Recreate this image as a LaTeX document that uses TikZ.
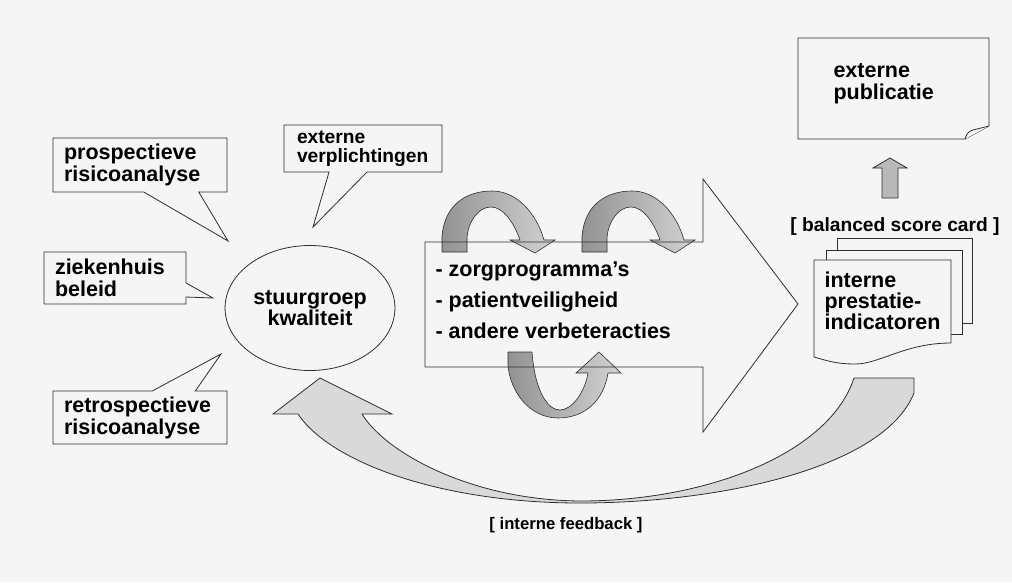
\documentclass[tikz,border=0pt]{standalone}
\usepackage{fontspec}
\setmainfont{Liberation Sans}
\usetikzlibrary{shapes.geometric, shapes.callouts}
\definecolor{paper}{HTML}{F5F5F5}
\definecolor{inkgray}{HTML}{2E2E2E}

\newcommand{\bigtxt}{\bfseries\fontsize{21.5}{22}\selectfont}

\begin{document}
\begin{tikzpicture}[
    x=1pt, y=-1pt,
    callbox/.style={rectangle callout, draw=inkgray, line width=0.8pt, fill=paper,
                    align=left, font=\bigtxt, inner xsep=11pt, inner ysep=4pt},
    kern/.style={ellipse, draw=inkgray, line width=0.8pt, minimum width=166pt,
                 minimum height=125pt, align=center,
                 font=\bfseries\fontsize{21.5}{20}\selectfont},
    ribbon/.style={draw=inkgray, line width=0.6pt, left color=gray!85, right color=gray!35},
    bigar/.style={draw=inkgray, line width=0.8pt},
    feedback/.style={draw=inkgray, line width=0.8pt, fill=gray!30},
    blockar/.style={draw=inkgray, line width=0.8pt, fill=gray!55},
    sheet/.style={draw=inkgray, line width=0.8pt, fill=paper},
    tag/.style={font=\bfseries\fontsize{19.2}{20}\selectfont},
  ]

  % page
  \fill[paper] (0,0) rectangle (1012,582);
  \useasboundingbox (0,0) rectangle (1012,582);

  % steering group and the callouts pointing at it
  \node[kern] (stuur) at (310,308) {stuurgroep\\kwaliteit};

  \coordinate (tipP) at (228,241);
  \coordinate (tipZ) at (213,298);
  \coordinate (tipR) at (221,354);
  \coordinate (tipE) at (313,227);

  \node[callbox, text width=152pt, minimum height=54pt,
        callout absolute pointer=(tipP), callout pointer width=55pt]
        (prosp) at (140,165) {prospectieve\\risicoanalyse};
  \node[callbox, text width=120pt, minimum height=52pt,
        callout absolute pointer=(tipZ), callout pointer width=14pt]
        (zieken) at (115,278) {ziekenhuis\\beleid};
  \node[callbox, text width=152pt, minimum height=53pt,
        callout absolute pointer=(tipR), callout pointer width=43pt]
        (retro) at (140,417.5) {retrospectieve\\risicoanalyse};
  \node[callbox, text width=132pt, minimum height=47pt,
        font=\bfseries\fontsize{19.2}{19}\selectfont, inner xsep=13pt,
        callout absolute pointer=(tipE), callout pointer width=38pt]
        (extern) at (363,148.5) {externe\\verplichtingen};

  % improvement loops
  \foreach \dx in {0,140}
    \draw[ribbon, shift={(\dx,0)}] (442,252) -- (442,236)
      .. controls (445,203) and (468,191) .. (492,191)
      .. controls (516,191) and (536,212) .. (544,240) -- (555,240) -- (535,253)
      -- (510,240) -- (520,240)
      .. controls (513,220) and (502,207) .. (491,207)
      .. controls (478,207) and (468,222) .. (467,238) -- (467,252) -- cycle;
  \draw[ribbon] (508,352) -- (532,352)
    .. controls (535,392) and (548,410) .. (560,410)
    .. controls (572,410) and (585,392) .. (588,373) -- (576,373) -- (599,352)
    -- (621,373) -- (608,373)
    .. controls (604,400) and (585,418) .. (558,418)
    .. controls (530,418) and (510,392) .. (508,365) -- cycle;

  % main process arrow
  \draw[bigar] (425,242) -- (703,242) -- (703,179) -- (798,304) -- (703,432)
    -- (703,367) -- (425,367) -- cycle;
  \node[font=\bigtxt, align=left, anchor=west] (items) at (432,300)
    {- zorgprogramma’s\\[9pt]- patientveiligheid\\[9pt]- andere verbeteracties};

  % indicators and publication
  \draw[sheet] (837,238) rectangle (972,323);
  \draw[sheet] (826,250) rectangle (962,334);
  \draw[sheet] (814,260) -- (951,260) -- (951,343)
    .. controls (905,343) and (880,364) .. (855,364)
    .. controls (835,364) and (825,360) .. (814,357) -- cycle;
  \node[font=\bfseries\fontsize{21.5}{21}\selectfont, align=left, anchor=west]
    (indic) at (821,301) {interne\\prestatie-\\indicatoren};
  \node[tag] (bsc) at (895,227) {[ balanced score card ]};

  \draw[sheet] (798,38) -- (989,38) -- (989,126) -- (965,139) -- (798,139) -- cycle;
  \draw[sheet] (965,139) .. controls (967,133) and (969,131) .. (973,130) -- (989,126);
  \node[font=\bigtxt, align=left, anchor=west] (publ) at (830,84) {externe\\publicatie};

  \draw[blockar] (882,198) -- (882,168) -- (873,168) -- (890,158) -- (907,168)
    -- (898,168) -- (898,198) -- cycle;

  % feedback loop
  \draw[feedback] (914,378) -- (914,393)
    .. controls (884,468) and (720,503) .. (580,503)
    .. controls (440,503) and (330,462) .. (298,414) -- (273,414) -- (320,378)
    -- (392,414) -- (362,414)
    .. controls (385,452) and (470,500) .. (580,501)
    .. controls (710,501) and (830,452) .. (854,378) -- cycle;
  \node[font=\bfseries\fontsize{16.7}{18}\selectfont] (fbtxt) at (566,525)
    {[ interne feedback ]};
\end{tikzpicture}
\end{document}
